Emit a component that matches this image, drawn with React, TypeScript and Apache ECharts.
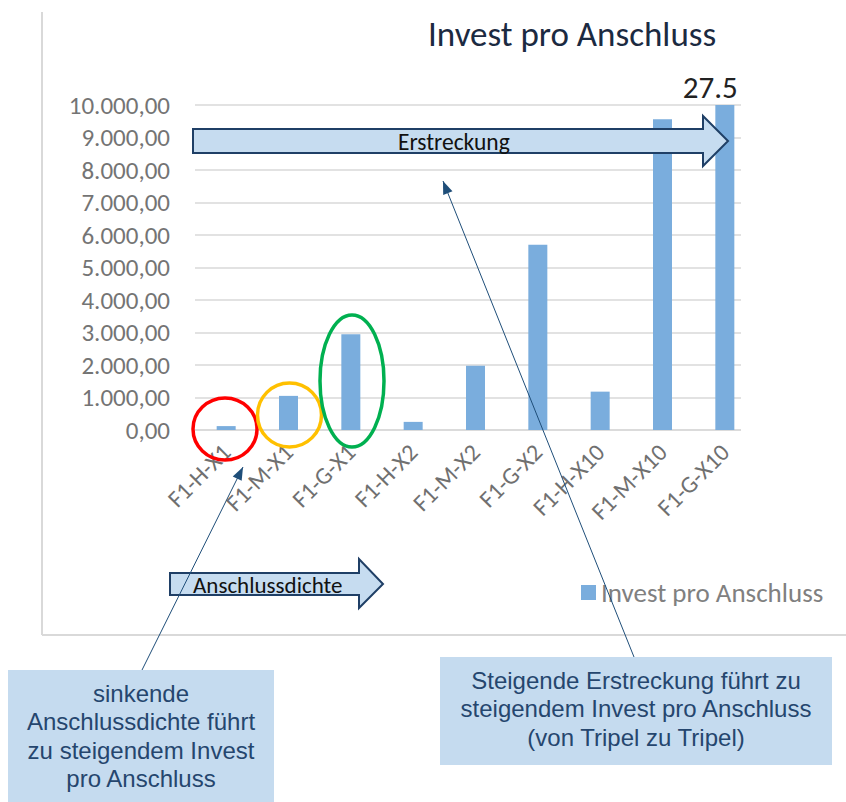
import React, { useEffect, useRef } from "react";
import * as echarts from "echarts";

const categories = ["F1-H-X1", "F1-M-X1", "F1-G-X1", "F1-H-X2", "F1-M-X2", "F1-G-X2", "F1-H-X10", "F1-M-X10", "F1-G-X10"];
const investValues = [120, 1050, 2950, 250, 1980, 5700, 1180, 9560, 27500];
const yMin = 0;
const yMax = 10000;
const yInterval = 1000;
const seriesName = "Invest pro Anschluss";
const leftNote = "sinkende\nAnschlussdichte führt\nzu steigendem Invest\npro Anschluss";
const rightNote = "Steigende Erstreckung führt zu\nsteigendem Invest pro Anschluss\n(von Tripel zu Tripel)";

const FONT = "Carlito, Lato, sans-serif";
const ARIAL = "'Liberation Sans', Arial, sans-serif";

function deFormat(v: number): string {
  const s = Math.round(v).toString().replace(/\B(?=(\d{3})+(?!\d))/g, ".");
  return s + ",00";
}

function arrowHead(x1: number, y1: number, x2: number, y2: number, len = 13, w = 5) {
  const dx = x2 - x1, dy = y2 - y1;
  const d = Math.sqrt(dx * dx + dy * dy);
  const ux = dx / d, uy = dy / d;
  const bx = x2 - ux * len, by = y2 - uy * len;
  return [[x2, y2], [bx - uy * w, by + ux * w], [bx + uy * w, by - ux * w]];
}

export default function App() {
  const ref = useRef<HTMLDivElement>(null);
  useEffect(() => {
    if (!ref.current) return;
    const chart = echarts.init(ref.current, null, { renderer: "svg" });
    chart.setOption({
      animation: false,
      backgroundColor: "#ffffff",
      title: {
        text: seriesName,
        left: 423,
        top: 11,
        textStyle: { fontSize: 35, fontWeight: "normal", color: "#1b2a41", fontFamily: FONT },
      },
      legend: {
        data: [seriesName],
        left: 576,
        top: 574,
        icon: "rect",
        itemWidth: 15,
        itemHeight: 15,
        itemGap: 6,
        textStyle: { fontSize: 27, color: "#808080", fontFamily: FONT },
      },
      grid: { left: 195, right: 90, top: 105, bottom: 802 - 430, containLabel: false },
      xAxis: {
        type: "category",
        data: categories,
        axisLine: { lineStyle: { color: "#d9d9d9", width: 1.5 } },
        axisTick: { show: false },
        axisLabel: { rotate: 45, fontSize: 24, color: "#707070", fontFamily: FONT, margin: 18, interval: 0 },
      },
      yAxis: {
        type: "value",
        min: yMin,
        max: yMax,
        interval: yInterval,
        axisLine: { show: false },
        axisTick: { show: false },
        splitLine: { lineStyle: { color: "#d9d9d9", width: 1.5 } },
        axisLabel: { formatter: (v: number) => deFormat(v), fontSize: 25, color: "#747474", fontFamily: FONT, margin: 25 },
      },
      series: [
        {
          name: seriesName,
          type: "bar",
          data: investValues,
          barWidth: 19,
          clip: true,
          itemStyle: { color: "#7aaddd" },
        },
      ],
    });

    const lastIdx = categories.length - 1;
    const [lx, ly] = chart.convertToPixel({ gridIndex: 0 }, [lastIdx, yMax]) as number[];
    const lastLabel = (investValues[lastIdx] / 1000).toFixed(1);

    const navy = "#1f3f66";
    const arrowFill = "#c6dcf0";
    const boxFill = "#c5dbef";
    const lineColor = "#1f4e79";

    const L1 = [142, 670, 243, 467];
    const L2 = [634, 657, 443, 181];

    chart.setOption({
      graphic: [
        { type: "line", shape: { x1: 42, y1: 12, x2: 42, y2: 635 }, style: { stroke: "#d9d9d9", lineWidth: 2 }, z: 1 },
        { type: "line", shape: { x1: 42, y1: 635, x2: 846, y2: 635 }, style: { stroke: "#d9d9d9", lineWidth: 2 }, z: 1 },
        { type: "rect", shape: { x: 741, y: 95, width: 30, height: 342 }, style: { fill: "#ffffff" }, z: 5 },
        {
          type: "text",
          x: lx - 14.5,
          y: ly - 3,
          style: { text: lastLabel, fontSize: 31, fill: "#222222", fontFamily: FONT, align: "center", verticalAlign: "bottom" },
          z: 20,
        },
        {
          type: "polygon",
          shape: { points: [[193, 129], [703, 129], [703, 116], [728, 141], [703, 166], [703, 153], [193, 153]] },
          style: { fill: arrowFill, stroke: navy, lineWidth: 2 },
          z: 20,
        },
        {
          type: "text",
          x: 398,
          y: 142,
          style: { text: "Erstreckung", fontSize: 23.5, fill: "#111111", fontFamily: FONT, verticalAlign: "middle" },
          z: 21,
        },
        {
          type: "polygon",
          shape: { points: [[170, 573], [359, 573], [359, 559], [383, 584], [359, 608], [359, 595], [170, 595]] },
          style: { fill: arrowFill, stroke: navy, lineWidth: 2 },
          z: 20,
        },
        {
          type: "text",
          x: 193,
          y: 585,
          style: { text: "Anschlussdichte", fontSize: 23, fill: "#111111", fontFamily: FONT, verticalAlign: "middle" },
          z: 21,
        },
        { type: "ellipse", shape: { cx: 225, cy: 429, rx: 32, ry: 31 }, style: { fill: "none", stroke: "#ff0000", lineWidth: 3.5 }, z: 22 },
        { type: "ellipse", shape: { cx: 289.5, cy: 415, rx: 32, ry: 32 }, style: { fill: "none", stroke: "#ffc000", lineWidth: 3.5 }, z: 22 },
        { type: "ellipse", shape: { cx: 352, cy: 381, rx: 32, ry: 66 }, style: { fill: "none", stroke: "#00b050", lineWidth: 3.5 }, z: 22 },
        { type: "line", shape: { x1: L1[0], y1: L1[1], x2: L1[2], y2: L1[3] }, style: { stroke: lineColor, lineWidth: 1 }, z: 23 },
        { type: "polygon", shape: { points: arrowHead(L1[0], L1[1], L1[2], L1[3]) }, style: { fill: lineColor }, z: 23 },
        { type: "line", shape: { x1: L2[0], y1: L2[1], x2: L2[2], y2: L2[3] }, style: { stroke: lineColor, lineWidth: 1 }, z: 23 },
        { type: "polygon", shape: { points: arrowHead(L2[0], L2[1], L2[2], L2[3]) }, style: { fill: lineColor }, z: 23 },
        { type: "rect", shape: { x: 8, y: 670, width: 266, height: 140 }, style: { fill: boxFill }, z: 24 },
        {
          type: "text",
          x: 141,
          y: 679,
          style: { text: leftNote, fontSize: 24, lineHeight: 28.5, fill: "#25466e", fontFamily: ARIAL, align: "center", verticalAlign: "top" },
          z: 25,
        },
        { type: "rect", shape: { x: 440, y: 657, width: 392, height: 108 }, style: { fill: boxFill }, z: 24 },
        {
          type: "text",
          x: 636,
          y: 666,
          style: { text: rightNote, fontSize: 24, lineHeight: 28.5, fill: "#25466e", fontFamily: ARIAL, align: "center", verticalAlign: "top" },
          z: 25,
        },
      ],
    });

    return () => chart.dispose();
  }, []);

  return <div ref={ref} style={{ position: "fixed", left: 0, top: 0, width: 846, height: 802 }} />;
}
